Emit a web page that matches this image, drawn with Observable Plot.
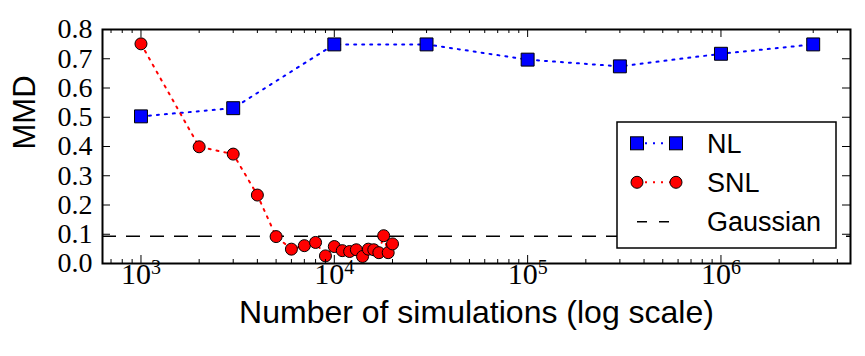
<!DOCTYPE html>
<html><head><meta charset="utf-8">
<script src="https://cdn.jsdelivr.net/npm/d3@7"></script>
<script src="https://cdn.jsdelivr.net/npm/@observablehq/plot@0.6"></script>
<style>
body{margin:0;background:#fff;}
#chart{position:relative;width:865px;height:356px;}
</style></head><body><div id="chart"></div>
<script>
// ---- data ----
const nlN = [1e3, 3e3, 1e4, 3e4, 1e5, 3e5, 1e6, 3e6];
const nlMMD = [0.503, 0.531, 0.749, 0.749, 0.697, 0.674, 0.717, 0.749];
const snlN = [1000, 2000, 3000, 4000, 5000, 6000, 7000, 8000, 9000, 10000, 11000, 12000, 13000, 14000, 15000, 16000, 17000, 18000, 19000, 20000];
const snlMMD = [0.751, 0.399, 0.374, 0.234, 0.092, 0.049, 0.061, 0.072, 0.026, 0.058, 0.044, 0.041, 0.047, 0.024, 0.049, 0.047, 0.037, 0.095, 0.037, 0.067];
const gaussianMMD = [0.093];
const yTicks = [0, 0.1, 0.2, 0.3, 0.4, 0.5, 0.6, 0.7, 0.8];
const xMajorTicks = [1e3, 1e4, 1e5, 1e6];
const xTickLabels = ["10^3", "10^4", "10^5", "10^6"];
const seriesNames = ["NL", "SNL", "Gaussian"];
const xLabel = "Number of simulations (log scale)";
const yLabel = "MMD";

// ---- layout ----
const W = 865, H = 356, mL = 102, mR = 15, mT = 29, mB = 93;
const FW = W - mL - mR, FH = H - mT - mB;
const xDomain = [Math.pow(10, 2.801), Math.pow(10, 6.670)];
const xMinorTicks = [];
for (let k = 2; k <= 6; k++) for (let m = 2; m <= 9; m++) {
  const v = m * Math.pow(10, k);
  if (v > xDomain[0] && v < xDomain[1]) xMinorTicks.push(v);
}
const nl = nlN.map((n, i) => ({n, v: nlMMD[i]}));
const snl = snlN.map((n, i) => ({n, v: snlMMD[i]}));
const labelIdx = xMajorTicks.map((d, i) => i);

const serif = "'Liberation Serif', 'DejaVu Serif', serif";
const sans = "'Liberation Sans', Arial, sans-serif";

const chart = Plot.plot({
  width: W, height: H,
  marginLeft: mL, marginRight: mR, marginTop: mT, marginBottom: mB,
  style: {background: "white", overflow: "visible"},
  x: {type: "log", domain: xDomain, axis: null},
  y: {domain: [0, 0.8]},
  marks: [
    Plot.ruleY(gaussianMMD, {y: d => d, stroke: "black", strokeWidth: 1.5, strokeDasharray: "14,10"}),
    Plot.line(nl, {x: "n", y: "v", stroke: "#0000ff", strokeWidth: 2, strokeDasharray: "2,6"}),
    Plot.line(snl, {x: "n", y: "v", stroke: "#ff0000", strokeWidth: 2, strokeDasharray: "2,6"}),
    Plot.dot(nl, {x: "n", y: "v", symbol: "square", r: 7.3, fill: "#0000ff", stroke: "black", strokeWidth: 1}),
    Plot.dot(snl, {x: "n", y: "v", r: 6, fill: "#ff0000", stroke: "black", strokeWidth: 1}),
    // inward ticks
    Plot.tickX(xMajorTicks, {x: d => d, insetTop: FH - 8, stroke: "black"}),
    Plot.tickX(xMajorTicks, {x: d => d, insetBottom: FH - 8, stroke: "black"}),
    Plot.tickX(xMinorTicks, {x: d => d, insetTop: FH - 4, stroke: "black"}),
    Plot.tickX(xMinorTicks, {x: d => d, insetBottom: FH - 4, stroke: "black"}),
    Plot.tickY(yTicks, {y: d => d, insetRight: FW - 8, stroke: "black"}),
    Plot.tickY(yTicks, {y: d => d, insetLeft: FW - 8, stroke: "black"}),
    Plot.frame({stroke: "black", strokeWidth: 2}),
    // tick labels
    Plot.axisY({ticks: yTicks, tickSize: 0, tickPadding: 10, tickFormat: d3.format(".1f"), fontSize: 28, fontFamily: serif, fill: "black", label: null}),
    Plot.text(labelIdx, {x: i => xMajorTicks[i], text: i => xTickLabels[i], frameAnchor: "bottom", dy: 20.1, fontSize: 30, fontFamily: serif, fill: "black"}),
    // axis titles
    Plot.text([xLabel], {frameAnchor: "bottom", dy: 59.5, fontSize: 32, fontFamily: sans, fill: "black"}),
    Plot.text([yLabel], {frameAnchor: "left", rotate: -90, dx: -77, dy: 3, fontSize: 31, fontFamily: sans, fill: "black"})
  ]
});

// superscripts for the x tick labels
d3.select(chart).selectAll("text").each(function () {
  const m = /^10\^(\d+)$/.exec(this.textContent);
  if (m) {
    const s = d3.select(this);
    s.text(null);
    s.append("tspan").text("10");
    s.append("tspan").attr("font-size", 20).attr("dy", -10).text(m[1]);
  }
});

// legend
const svg = d3.select(chart);
const lg = svg.append("g").attr("text-anchor", "start");
lg.append("rect").attr("x", 617).attr("y", 122).attr("width", 219).attr("height", 126)
  .attr("fill", "white").attr("stroke", "black").attr("stroke-width", 1.5);
const rows = [143.3, 182.3, 221.7];
const x0 = 637, x1 = 676, tx = 707;
// NL
lg.append("line").attr("x1", x0).attr("x2", x1).attr("y1", rows[0]).attr("y2", rows[0])
  .attr("stroke", "#0000ff").attr("stroke-width", 2).attr("stroke-dasharray", "2,6");
[x0, x1].forEach(x => lg.append("rect").attr("x", x - 6.5).attr("y", rows[0] - 6.5).attr("width", 13).attr("height", 13)
  .attr("fill", "#0000ff").attr("stroke", "black").attr("stroke-width", 1));
// SNL
lg.append("line").attr("x1", x0).attr("x2", x1).attr("y1", rows[1]).attr("y2", rows[1])
  .attr("stroke", "#ff0000").attr("stroke-width", 2).attr("stroke-dasharray", "2,6");
[x0, x1].forEach(x => lg.append("circle").attr("cx", x).attr("cy", rows[1]).attr("r", 6)
  .attr("fill", "#ff0000").attr("stroke", "black").attr("stroke-width", 1));
// Gaussian
lg.append("line").attr("x1", x0).attr("x2", x1).attr("y1", rows[2]).attr("y2", rows[2])
  .attr("stroke", "black").attr("stroke-width", 1.5).attr("stroke-dasharray", "10,12");
seriesNames.forEach((name, i) => lg.append("text").attr("x", tx).attr("y", rows[i] + 9.5)
  .attr("text-anchor", "start").attr("font-family", sans).attr("font-size", 27).attr("fill", "black").text(name));

document.getElementById("chart").appendChild(chart);
</script>
</body></html>
